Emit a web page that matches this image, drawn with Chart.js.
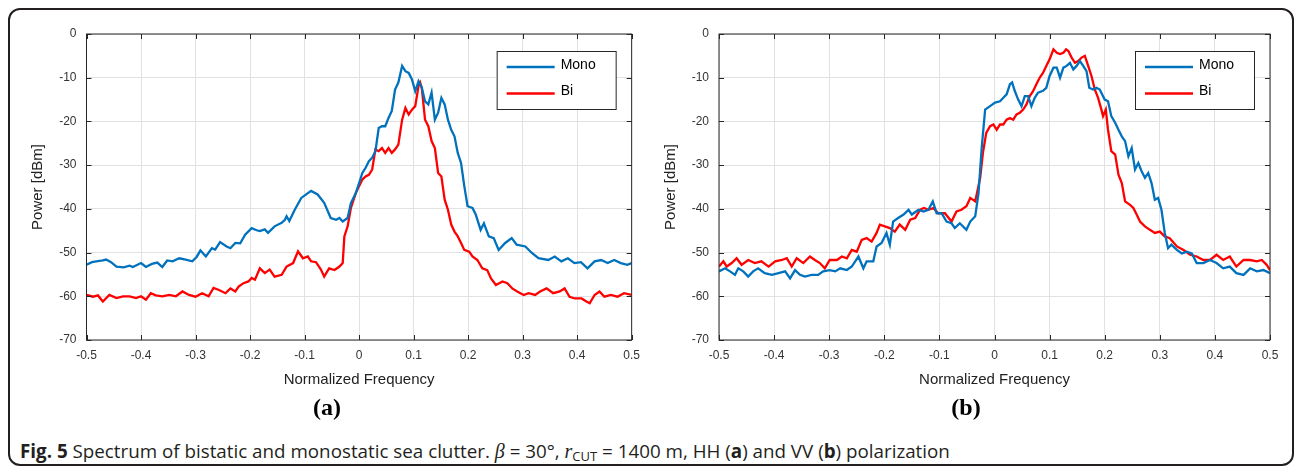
<!DOCTYPE html>
<html>
<head>
<meta charset="utf-8">
<script src="https://cdn.jsdelivr.net/npm/chart.js@4.4.0/dist/chart.umd.min.js"></script>
<style>
  html, body { margin: 0; padding: 0; background: #fff; }
  body { width: 1296px; height: 469px; position: relative; overflow: hidden; }
  #frame { position: absolute; left: 8px; top: 8px; width: 1282px; height: 454px;
           border: 2px solid #231f20; border-radius: 12px; }
  .box { position: absolute; top: 0; width: 648px; height: 400px; }
  .sub { position: absolute; top: 394px; transform: translateX(-50%);
         font: bold 24px "Liberation Serif", "Times New Roman", serif; color: #000; }
  #caption { position: absolute; left: 20px; top: 439px; line-height: 24px;
             font-family: "Open Sans", sans-serif; font-size: 18.8px; color: #231f20; white-space: nowrap; }
  #caption i { font-family: "Liberation Serif", serif; font-size: 20px; }
  #caption sub { font-size: 13px; vertical-align: -3px; }
</style>
</head>
<body>
<div id="frame"></div>
<div class="box" style="left:0"><canvas id="chartA" width="648" height="400"></canvas></div>
<div class="box" style="left:648px"><canvas id="chartB" width="648" height="400"></canvas></div>
<div class="sub" style="left:327px">(a)</div>
<div class="sub" style="left:966px">(b)</div>
<div id="caption"><b>Fig. 5</b> Spectrum of bistatic and monostatic sea clutter. <i>β</i> = 30°, <i>r</i><sub>CUT</sub> = 1400 m, HH (<b>a</b>) and VV (<b>b</b>) polarization</div>

<script>
// (a) HH polarization
const freqMonoA = [-0.500, -0.490, -0.482, -0.470, -0.464, -0.455, -0.445, -0.432, -0.421, -0.415, -0.400, -0.391, -0.380, -0.370, -0.361, -0.352, -0.342, -0.330, -0.318, -0.306,
  -0.298, -0.291, -0.281, -0.270, -0.264, -0.255, -0.243, -0.236, -0.227, -0.218, -0.209, -0.197, -0.188, -0.182, -0.173, -0.167, -0.155, -0.142, -0.136, -0.133,
  -0.128, -0.118, -0.106, -0.097, -0.088, -0.076, -0.064, -0.052, -0.042, -0.036, -0.030, -0.021, -0.015, -0.006, 0.000, 0.006, 0.012, 0.018, 0.024, 0.030,
  0.036, 0.042, 0.048, 0.054, 0.060, 0.066, 0.072, 0.079, 0.085, 0.091, 0.097, 0.103, 0.109, 0.115, 0.121, 0.127, 0.133, 0.139, 0.145, 0.151,
  0.157, 0.163, 0.169, 0.175, 0.181, 0.187, 0.193, 0.199, 0.208, 0.214, 0.223, 0.229, 0.238, 0.247, 0.256, 0.268, 0.280, 0.289, 0.305, 0.317,
  0.329, 0.347, 0.359, 0.371, 0.383, 0.395, 0.407, 0.419, 0.432, 0.444, 0.456, 0.468, 0.480, 0.492, 0.500];
const monoA = [-52.8, -52.2, -52.0, -51.8, -51.6, -52.2, -53.2, -53.4, -53.0, -53.3, -52.4, -53.3, -52.6, -52.3, -53.3, -51.8, -52.0, -51.3, -51.6, -52.0,
  -51.0, -49.5, -50.9, -49.0, -49.3, -47.6, -48.6, -49.0, -47.8, -47.9, -45.9, -44.4, -44.9, -45.1, -44.7, -45.5, -44.0, -43.2, -42.5, -41.7,
  -42.8, -40.2, -37.5, -36.7, -35.9, -36.7, -38.6, -42.1, -42.5, -42.1, -42.9, -42.1, -38.7, -36.4, -34.1, -31.8, -30.6, -29.1, -28.3, -26.8,
  -21.5, -21.1, -21.1, -19.2, -17.6, -12.7, -11.1, -7.3, -8.5, -8.9, -10.4, -13.1, -10.8, -12.3, -15.4, -16.1, -13.4, -19.6, -18.0, -14.6,
  -16.1, -19.6, -21.9, -23.4, -27.2, -29.5, -34.8, -39.4, -39.8, -41.3, -44.8, -43.3, -46.3, -46.7, -49.4, -47.8, -46.7, -48.2, -48.6, -50.1,
  -51.3, -51.7, -50.9, -52.0, -51.3, -52.4, -52.2, -53.6, -52.0, -51.7, -52.4, -51.7, -52.4, -52.8, -52.4];

const freqBiA = [-0.500, -0.488, -0.479, -0.470, -0.458, -0.445, -0.433, -0.421, -0.409, -0.400, -0.391, -0.382, -0.373, -0.361, -0.348, -0.336, -0.324, -0.312, -0.300, -0.288,
  -0.276, -0.267, -0.258, -0.245, -0.236, -0.227, -0.221, -0.212, -0.203, -0.197, -0.191, -0.182, -0.173, -0.164, -0.155, -0.142, -0.133, -0.121, -0.112, -0.103,
  -0.094, -0.088, -0.079, -0.070, -0.064, -0.055, -0.045, -0.036, -0.030, -0.027, -0.021, -0.015, -0.006, 0.000, 0.006, 0.012, 0.018, 0.024, 0.030, 0.036,
  0.042, 0.048, 0.054, 0.060, 0.066, 0.072, 0.079, 0.085, 0.091, 0.097, 0.103, 0.109, 0.112, 0.115, 0.121, 0.127, 0.133, 0.139, 0.145, 0.151,
  0.157, 0.163, 0.169, 0.175, 0.181, 0.187, 0.193, 0.202, 0.208, 0.217, 0.226, 0.235, 0.242, 0.251, 0.263, 0.272, 0.281, 0.290, 0.302, 0.311,
  0.323, 0.332, 0.344, 0.356, 0.368, 0.377, 0.386, 0.396, 0.408, 0.417, 0.423, 0.432, 0.441, 0.450, 0.462, 0.474, 0.486, 0.500];
const biA = [-59.7, -60.1, -59.8, -61.2, -59.7, -60.4, -60.0, -60.0, -60.4, -60.0, -60.8, -59.3, -59.8, -60.0, -59.7, -60.0, -58.9, -59.7, -60.1, -59.3,
  -60.0, -58.1, -58.5, -59.3, -58.2, -58.9, -57.8, -57.0, -56.6, -55.8, -56.2, -53.6, -54.7, -53.9, -55.5, -55.1, -53.2, -52.4, -49.7, -51.3,
  -50.9, -52.0, -52.2, -53.9, -55.5, -53.6, -54.0, -53.2, -52.4, -46.3, -44.0, -39.8, -36.4, -34.8, -33.3, -32.6, -32.2, -31.0, -26.4, -26.8,
  -26.1, -27.2, -26.1, -27.2, -26.4, -25.3, -19.6, -16.9, -18.4, -17.3, -16.5, -11.9, -11.1, -12.3, -19.6, -21.1, -24.5, -26.1, -31.8, -32.6,
  -37.9, -40.2, -43.6, -45.2, -46.3, -47.8, -49.4, -49.8, -50.9, -51.7, -53.6, -54.0, -55.9, -57.4, -56.6, -57.0, -58.2, -58.9, -59.7, -59.3,
  -59.7, -58.9, -58.2, -59.3, -58.9, -58.2, -60.1, -60.5, -60.5, -61.2, -61.6, -59.7, -58.9, -60.1, -59.7, -60.1, -59.3, -59.7];

// (b) VV polarization
const freqMonoB = [-0.500, -0.489, -0.480, -0.471, -0.465, -0.456, -0.447, -0.438, -0.429, -0.417, -0.404, -0.392, -0.380, -0.371, -0.362, -0.353, -0.344, -0.332, -0.320, -0.311,
  -0.299, -0.289, -0.280, -0.268, -0.259, -0.247, -0.238, -0.232, -0.220, -0.214, -0.205, -0.196, -0.190, -0.184, -0.175, -0.165, -0.156, -0.150, -0.138, -0.129,
  -0.120, -0.112, -0.105, -0.096, -0.087, -0.078, -0.072, -0.063, -0.051, -0.044, -0.035, -0.029, -0.023, -0.017, -0.008, 0.001, 0.010, 0.016, 0.022, 0.028,
  0.032, 0.037, 0.043, 0.049, 0.055, 0.061, 0.067, 0.073, 0.079, 0.088, 0.094, 0.100, 0.107, 0.113, 0.119, 0.125, 0.131, 0.137, 0.143, 0.149,
  0.155, 0.161, 0.167, 0.172, 0.179, 0.185, 0.191, 0.200, 0.206, 0.212, 0.219, 0.225, 0.231, 0.237, 0.243, 0.249, 0.255, 0.261, 0.267, 0.273,
  0.279, 0.285, 0.291, 0.297, 0.303, 0.309, 0.315, 0.321, 0.331, 0.340, 0.349, 0.358, 0.367, 0.379, 0.391, 0.403, 0.415, 0.427, 0.439, 0.452,
  0.464, 0.476, 0.488, 0.500];
const monoB = [-54.3, -53.6, -54.3, -55.1, -53.6, -54.3, -55.5, -54.3, -53.6, -54.7, -55.1, -54.7, -54.3, -55.9, -54.0, -55.1, -55.5, -55.1, -55.1, -54.3,
  -54.0, -54.3, -53.6, -54.0, -53.2, -50.9, -53.6, -52.0, -52.0, -48.6, -47.8, -45.5, -48.2, -42.9, -42.1, -41.3, -40.2, -41.3, -40.2, -40.6,
  -40.2, -38.3, -41.0, -41.0, -42.9, -43.3, -44.4, -43.3, -44.8, -42.9, -41.7, -36.4, -25.7, -17.3, -16.5, -15.7, -15.4, -14.6, -13.8, -11.5,
  -11.1, -13.1, -15.0, -16.5, -14.2, -14.2, -16.5, -14.6, -13.4, -13.0, -12.3, -9.6, -7.7, -7.7, -10.0, -7.7, -7.3, -6.6, -8.1, -7.3,
  -6.2, -7.3, -8.5, -12.3, -12.7, -12.3, -12.7, -15.0, -15.4, -18.8, -20.3, -21.9, -23.4, -24.5, -28.0, -26.1, -31.0, -29.5, -31.4, -32.9,
  -31.8, -34.1, -37.9, -37.5, -40.2, -45.5, -49.0, -48.2, -49.4, -50.2, -49.8, -50.2, -52.4, -52.4, -51.7, -52.4, -53.6, -53.2, -54.7, -55.1,
  -53.6, -54.3, -54.0, -54.7];

const freqBiB = [-0.500, -0.492, -0.486, -0.477, -0.468, -0.459, -0.447, -0.435, -0.423, -0.410, -0.398, -0.386, -0.377, -0.368, -0.359, -0.347, -0.335, -0.326, -0.317, -0.308,
  -0.299, -0.286, -0.277, -0.268, -0.259, -0.250, -0.241, -0.232, -0.223, -0.214, -0.208, -0.199, -0.190, -0.181, -0.172, -0.162, -0.153, -0.144, -0.135, -0.128,
  -0.120, -0.111, -0.102, -0.090, -0.078, -0.069, -0.060, -0.051, -0.044, -0.035, -0.026, -0.021, -0.015, -0.008, -0.002, 0.004, 0.010, 0.016, 0.022, 0.028,
  0.034, 0.040, 0.046, 0.052, 0.058, 0.064, 0.070, 0.076, 0.082, 0.088, 0.094, 0.100, 0.107, 0.113, 0.119, 0.125, 0.130, 0.134, 0.140, 0.146,
  0.152, 0.158, 0.164, 0.170, 0.176, 0.182, 0.188, 0.194, 0.197, 0.202, 0.206, 0.212, 0.219, 0.225, 0.231, 0.237, 0.246, 0.252, 0.258, 0.264,
  0.273, 0.282, 0.291, 0.300, 0.309, 0.318, 0.331, 0.343, 0.355, 0.367, 0.379, 0.391, 0.403, 0.415, 0.427, 0.439, 0.452, 0.464, 0.476, 0.485,
  0.494, 0.500];
const biB = [-53.2, -52.0, -53.2, -52.4, -51.3, -52.8, -51.7, -52.4, -52.0, -53.2, -52.0, -51.7, -51.3, -53.2, -51.3, -52.4, -50.9, -51.7, -52.4, -53.6,
  -51.7, -51.7, -50.9, -51.3, -49.4, -49.8, -47.1, -46.7, -47.5, -45.5, -43.6, -44.0, -44.4, -45.2, -43.6, -44.8, -42.5, -42.1, -40.2, -39.8,
  -40.2, -39.8, -41.0, -41.0, -42.9, -40.6, -40.2, -39.4, -37.5, -38.3, -32.9, -27.2, -22.6, -21.1, -20.7, -21.9, -20.7, -20.7, -19.6, -19.2,
  -19.6, -18.4, -18.0, -17.3, -16.1, -14.2, -13.1, -11.5, -10.0, -8.9, -7.3, -5.8, -3.5, -4.3, -4.6, -4.3, -3.5, -3.9, -5.4, -6.6,
  -6.2, -5.4, -5.0, -7.3, -9.6, -12.7, -14.6, -17.3, -18.8, -17.3, -21.9, -26.8, -27.6, -32.2, -34.1, -38.3, -39.1, -39.8, -41.3, -42.9,
  -44.0, -44.8, -45.5, -45.2, -46.3, -46.7, -48.6, -49.4, -50.5, -50.9, -51.7, -51.7, -50.5, -51.7, -50.9, -53.2, -51.7, -51.7, -52.0, -51.7,
  -52.8, -54.0];

const freqTicks = { min: -0.5, max: 0.5, step: 0.1 };
const powerTicks = { min: -70, max: 0, step: 10 };

const BLUE = '#0072BD';
const RED = '#FF0000';
const AXIS = '#262626';

Chart.defaults.font.family = '"Liberation Sans", Arial, sans-serif';

function toPoints(xs, ys) {
  return xs.map(function (x, i) { return { x: x, y: ys[i] }; });
}

// matlab style box, inward ticks and legend inside the axes
const matlabAxes = {
  id: 'matlabAxes',
  afterDatasetsDraw(chart) {
    const ctx = chart.ctx;
    const a = chart.chartArea;
    const xs = chart.scales.x, ys = chart.scales.y;
    ctx.save();
    ctx.strokeStyle = AXIS;
    ctx.lineWidth = 1;
    ctx.strokeRect(a.left, a.top, a.right - a.left, a.bottom - a.top);
    ctx.beginPath();
    xs.ticks.forEach(function (t) {
      const px = Math.round(xs.getPixelForValue(t.value)) + 0.5;
      ctx.moveTo(px, a.bottom); ctx.lineTo(px, a.bottom - 5);
      ctx.moveTo(px, a.top); ctx.lineTo(px, a.top + 5);
    });
    ys.ticks.forEach(function (t) {
      const py = Math.round(ys.getPixelForValue(t.value)) + 0.5;
      ctx.moveTo(a.left, py); ctx.lineTo(a.left + 5, py);
      ctx.moveTo(a.right, py); ctx.lineTo(a.right - 5, py);
    });
    ctx.stroke();

    // legend box
    const w = 119, h = 58;
    const bx = a.right - 16 - w, by = a.top + 17;
    ctx.fillStyle = '#fff';
    ctx.fillRect(bx, by, w, h);
    ctx.strokeStyle = AXIS;
    ctx.strokeRect(bx + 0.5, by + 0.5, w, h);
    ctx.font = '14px "Liberation Sans", Arial, sans-serif';
    ctx.textBaseline = 'middle';
    chart.data.datasets.forEach(function (ds, i) {
      const ly = by + 16 + i * 26.5;
      ctx.strokeStyle = ds.borderColor;
      ctx.lineWidth = 2.5;
      ctx.beginPath();
      ctx.moveTo(bx + 10, ly); ctx.lineTo(bx + 58, ly);
      ctx.stroke();
      ctx.fillStyle = '#000';
      ctx.fillText(ds.label, bx + 64, ly - 2);
    });
    ctx.restore();
  }
};

function makeChart(id, freqMono, mono, freqBi, bi, yWidth, padRight, yTitlePad) {
  const canvas = document.getElementById(id);
  return new Chart(canvas, {
    type: 'line',
    data: {
      datasets: [
        { label: 'Mono', data: toPoints(freqMono, mono), borderColor: BLUE, borderWidth: 2.3, pointRadius: 0, tension: 0 },
        { label: 'Bi', data: toPoints(freqBi, bi), borderColor: RED, borderWidth: 2.3, pointRadius: 0, tension: 0 }
      ]
    },
    options: {
      responsive: false,
      animation: false,
      layout: { padding: { top: 34, right: padRight, left: 0, bottom: 0 } },
      plugins: { legend: { display: false }, tooltip: { enabled: false } },
      scales: {
        x: {
          type: 'linear',
          min: freqTicks.min, max: freqTicks.max,
          ticks: { stepSize: freqTicks.step, padding: 8, color: '#333', font: { size: 12 }, maxRotation: 0 },
          grid: { color: '#e2e2e2', drawTicks: false },
          border: { display: false },
          title: { display: true, text: 'Normalized Frequency', color: '#222', font: { size: 15 }, padding: { bottom: 11 } },
          afterFit: function (s) { s.height = 60; }
        },
        y: {
          type: 'linear',
          min: powerTicks.min, max: powerTicks.max,
          ticks: { stepSize: powerTicks.step, padding: 10, color: '#333', font: { size: 12 } },
          grid: { color: '#e2e2e2', drawTicks: false },
          border: { display: false },
          title: { display: true, text: 'Power [dBm]', color: '#222', font: { size: 15 }, padding: { top: yTitlePad } },
          afterFit: function (s) { s.width = yWidth; }
        }
      }
    },
    plugins: [matlabAxes]
  });
}

makeChart('chartA', freqMonoA, monoA, freqBiA, biA, 86.5, 10.5, 29);
makeChart('chartB', freqMonoB, monoB, freqBiB, biB, 71, 26, 14);
</script>
</body>
</html>
